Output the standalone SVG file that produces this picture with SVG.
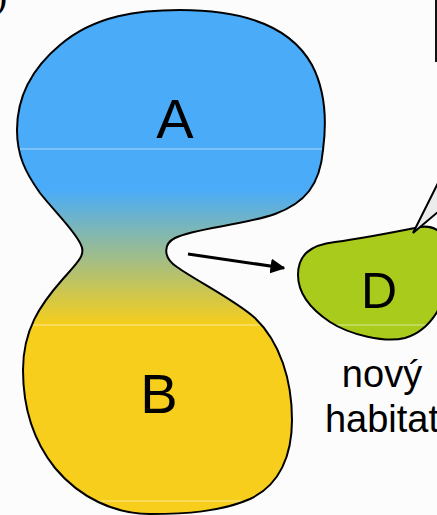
<svg xmlns="http://www.w3.org/2000/svg" width="437" height="515" viewBox="0 0 437 515">
  <defs>
    <linearGradient id="popGrad" gradientUnits="userSpaceOnUse" x1="0" y1="190" x2="0" y2="325">
      <stop offset="0" stop-color="#4aacf8"/>
      <stop offset="1" stop-color="#f6ce1b"/>
    </linearGradient>
    <path id="blob" d="M 180,10 C 240,10 290,25 312,65 C 325,90 327,120 323,150 C 320,185 305,203 275,214 C 240,226 195,228 175,238 C 163,244 163,258 177,267 C 195,280 235,300 255,318 C 280,342 292,380 292,420 C 292,455 280,485 250,499 C 220,512 185,514 150,514 C 115,514 80,498 55,468 C 35,443 23,410 23,370 C 23,330 40,305 62,280 C 78,262 86,255 81,245 C 76,232 55,212 40,193 C 25,172 17,155 17,130 C 17,100 30,70 60,45 C 95,15 140,10 180,10 Z"/>
    <path id="dshape" d="M 298,275 C 298,255 310,245 335,242 C 365,238 395,232 420,227 C 440,224 452,240 450,270 C 448,300 432,330 405,338 C 385,343 350,335 330,322 C 312,310 298,295 298,275 Z"/>
    <clipPath id="clipBlob"><use href="#blob"/></clipPath>
    <clipPath id="clipD"><use href="#dshape"/></clipPath>
    <marker id="arrowHead" viewBox="0 0 10 10" refX="9" refY="5" markerWidth="5" markerHeight="5" orient="auto" markerUnits="strokeWidth">
      <path d="M0,0 L10,5 L0,10 Z" fill="#000"/>
    </marker>
  </defs>
  <style>
    .outline { fill: none; stroke: #000; stroke-width: 2; }
    .label { font-family: "Liberation Sans", Arial, sans-serif; fill: #000; text-anchor: middle; }
    .big { font-size: 56px; }
    .mid { font-size: 50px; }
    .small { font-size: 38px; }
    .seam { stroke: #ffffff; stroke-width: 1; opacity: 0.55; }
  </style>
  <rect x="0" y="0" width="437" height="515" fill="#fcfcfc"/>
  <text x="-6" y="8" font-family="'Liberation Serif', 'Times New Roman', serif" font-size="40" fill="#000">)</text>
  <rect x="435" y="0" width="2" height="62" fill="#111"/>

  <g id="population">
    <use href="#blob" fill="url(#popGrad)"/>
    <g clip-path="url(#clipBlob)">
      <line class="seam" x1="0" y1="149" x2="437" y2="149"/>
      <line class="seam" x1="0" y1="325" x2="437" y2="325"/>
      <line class="seam" x1="0" y1="501" x2="437" y2="501"/>
    </g>
    <use href="#blob" class="outline"/>
  </g>
  <g id="node-A"><text class="label big" x="175" y="138">A</text></g>
  <g id="node-B"><text class="label big" x="159" y="413">B</text></g>

  <g id="node-D">
    <use href="#dshape" fill="#a9cc1c"/>
    <g clip-path="url(#clipD)">
      <line class="seam" x1="290" y1="325" x2="437" y2="325"/>
    </g>
    <use href="#dshape" class="outline"/>
    <text class="label mid" x="379" y="308">D</text>
  </g>
  <g id="label-novy">
    <text class="label small" x="382" y="387">nový</text>
    <text class="label small" x="382" y="432">habitat</text>
  </g>

  <g id="connectors">
    <line x1="188" y1="254" x2="284" y2="268" stroke="#000" stroke-width="3" marker-end="url(#arrowHead)"/>
    <polygon points="413,233 445,169 445,206" fill="#ececec" stroke="#000" stroke-width="2" stroke-linejoin="miter"/>
  </g>
</svg>
